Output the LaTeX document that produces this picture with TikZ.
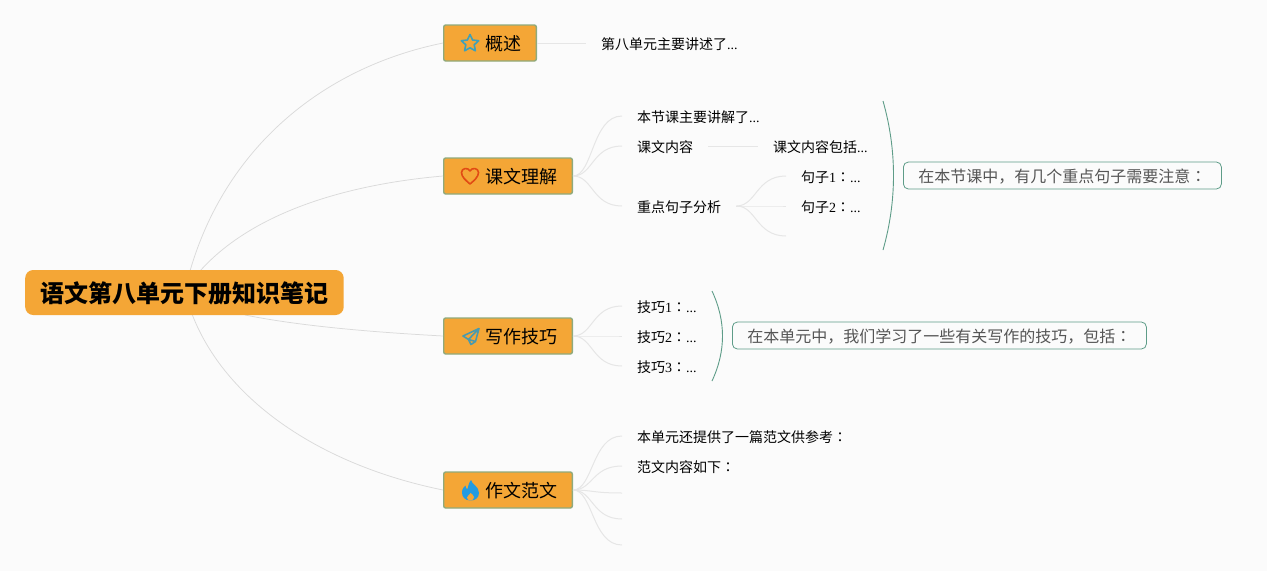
\documentclass[tikz,border=0pt]{standalone}
\usepackage{fontspec}
\setmainfont{Noto Sans CJK SC}
\newfontfamily\cjktc{Noto Sans CJK TC}
\newfontfamily\latinserif{Liberation Serif}
\newcommand{\dg}[1]{{\latinserif #1}}
\newcommand{\cl}{{\cjktc ：}}
\newcommand{\fsz}[1]{\fontsize{#1}{#1}\selectfont}
\definecolor{bgc}{HTML}{FBFBFB}
\definecolor{orangec}{HTML}{F4A636}
\definecolor{topicborder}{HTML}{8FAA7C}
\definecolor{linkc}{HTML}{E6E6E6}
\definecolor{rootlinkc}{HTML}{DADADA}
\definecolor{tealc}{HTML}{5E9C88}
\definecolor{graytext}{HTML}{555555}
\definecolor{starc}{HTML}{3EA0B9}
\definecolor{heartc}{HTML}{E14B14}
\definecolor{planec}{HTML}{4A9AAE}
\definecolor{flamec}{HTML}{239BE1}
\tikzset{
  rootbox/.style={fill=orangec,rounded corners=8pt,anchor=west,inner xsep=15pt,inner ysep=0pt,minimum height=45pt,text height=22pt,text depth=1.8pt,font=\fsz{24}\bfseries},
  topicbox/.style={fill=orangec,draw=topicborder,line width=1.4pt,rounded corners=2pt,anchor=west,inner xsep=15pt,inner ysep=0pt,minimum height=36pt,text height=17pt,text depth=1.3pt,font=\fsz{18}},
  leaf/.style={anchor=west,inner xsep=15pt,inner ysep=0pt,minimum height=20pt,text height=13.5pt,text depth=0.9pt,font=\fsz{14}},
  callout/.style={draw=tealc,line width=0.8pt,fill=bgc,rounded corners=5pt,anchor=west,inner xsep=15pt,inner ysep=0pt,minimum height=27pt,text height=15pt,text depth=1pt,font=\fsz{16},text=graytext},
  link/.style={draw=linkc,line width=1pt},
  rootlink/.style={draw=rootlinkc,line width=0.75pt},
  curvelink/.style={link,to path={.. controls +(20,0) and +(-30,0) .. (\tikztotarget)}},
  bracec/.style={draw=tealc,line width=0.9pt},
}
\begin{document}
\begin{tikzpicture}[x=1pt,y=-1pt]
\useasboundingbox (0,0) rectangle (1267,571);
\fill[bgc] (0,0) rectangle (1267,571);
\coordinate (r1) at (190,271);
\coordinate (r2) at (200,271);
\coordinate (r3) at (245,315);
\coordinate (r4) at (192,314);
\node[topicbox] (t1) at (443,43) {\hspace*{26.6pt}概述};
\node[topicbox] (t2) at (443,176) {\hspace*{26.6pt}课文理解};
\node[topicbox] (t3) at (443,336) {\hspace*{26.6pt}写作技巧};
\node[topicbox] (t4) at (443,490) {\hspace*{26.6pt}作文范文};
\draw[rootlink] (r1) .. controls (225,150) and (320,68) .. (t1.west);
\draw[rootlink] (r2) .. controls (250,215) and (340,185) .. (t2.west);
\draw[rootlink] (r3) .. controls (300,326) and (370,332) .. (t3.west);
\draw[rootlink] (r4) .. controls (225,400) and (320,465) .. (t4.west);
\node[rootbox] (root) at (25,292.5) {\hspace*{0.5pt}语文第八单元下册知识笔记};
\node[leaf] (a1) at (586,43) {第八单元主要讲述了\dg{...}};
\node[leaf] (b1) at (622,116) {本节课主要讲解了\dg{...}};
\node[leaf] (b2) at (622,146) {课文内容};
\node[leaf] (b3) at (622,206) {重点句子分析};
\node[leaf] (b4) at (758,146) {课文内容包括\dg{...}};
\node[leaf] (b5) at (786,176) {句子\dg{1}\cl\dg{...}};
\node[leaf] (b6) at (786,206) {句子\dg{2}\cl\dg{...}};
\coordinate (b7) at (786,236);
\node[leaf] (c1) at (622,306) {技巧\dg{1}\cl\dg{...}};
\node[leaf] (c2) at (622,336) {技巧\dg{2}\cl\dg{...}};
\node[leaf] (c3) at (622,366) {技巧\dg{3}\cl\dg{...}};
\node[leaf] (d1) at (622,436) {本单元还提供了一篇范文供参考\cl};
\node[leaf] (d2) at (622,466) {范文内容如下\cl};
\coordinate (d3) at (622,493);
\coordinate (d4) at (622,519);
\coordinate (d5) at (622,545);
\draw[link] (t1.east) -- (a1.west);
\foreach \n in {b1,b2,b3} \draw[curvelink] (t2.east) to (\n.west);
\draw[link] (b2.east) -- (b4.west);
\foreach \n in {b5,b6} \draw[curvelink] (b3.east) to (\n.west);
\draw[curvelink] (b3.east) to (b7);
\foreach \n in {c1,c2,c3} \draw[curvelink] (t3.east) to (\n.west);
\foreach \n in {d1,d2} \draw[curvelink] (t4.east) to (\n.west);
\foreach \n in {d3,d4,d5} \draw[curvelink] (t4.east) to (\n);
\coordinate (s1a) at (883,101);
\coordinate (s1b) at (883,250);
\coordinate (s2a) at (712,291);
\coordinate (s2b) at (712,381);
\draw[bracec] (s1a) .. controls (897,150) and (897,201) .. (s1b);
\draw[bracec] (s2a) .. controls (726,321) and (726,351) .. (s2b);
\node[callout] (n1) at (903,175.5) {在本节课中，有几个重点句子需要注意\cl};
\node[callout] (n2) at (732,335.5) {在本单元中，我们学习了一些有关写作的技巧，包括\cl};
\draw[line width=1.6pt,draw=starc,line join=round]
  (470,34.5) -- (472.6,40) -- (478.7,40.7) -- (474.2,44.8) -- (475.4,50.8) -- (470,47.8) -- (464.6,50.8) -- (465.8,44.8) -- (461.3,40.7) -- (467.4,40) -- cycle;
\draw[line width=1.6pt,draw=heartc,line join=round]
  (470,184) .. controls (466,180.5) and (461.5,177) .. (461.5,172.5) .. controls (461.5,168) and (468,167) .. (470,171) .. controls (472,167) and (478.5,168) .. (478.5,172.5) .. controls (478.5,177) and (474,180.5) .. (470,184) -- cycle;
\draw[line width=1.6pt,draw=planec,line join=round]
  (479,328.5) -- (463,336) -- (468.5,339.5) -- (471,344.5) -- (475.5,341.5) -- (468.5,339.5) -- (479,328.5) -- (475.5,341.5);
\fill[flamec]
  (471,480) .. controls (472,485) and (479,486) .. (479,493) .. controls (479,498) and (475,500.5) .. (470.5,500.5) .. controls (465,500.5) and (462,497) .. (462,492.5) .. controls (462,489) and (464,486.5) .. (465.5,485.5) .. controls (465.5,488) and (466.5,489) .. (467.5,489) .. controls (468.5,486) and (468.5,483) .. (471,480) -- cycle;
\fill[orangec] (470.7,493) .. controls (471.5,494.5) and (474,495) .. (474,497) .. controls (474,499) and (472.5,500.5) .. (470.5,500.5) .. controls (468.5,500.5) and (467,499) .. (467,497.5) .. controls (467,495.5) and (470,495) .. (470.7,493) -- cycle;
\end{tikzpicture}
\end{document}
